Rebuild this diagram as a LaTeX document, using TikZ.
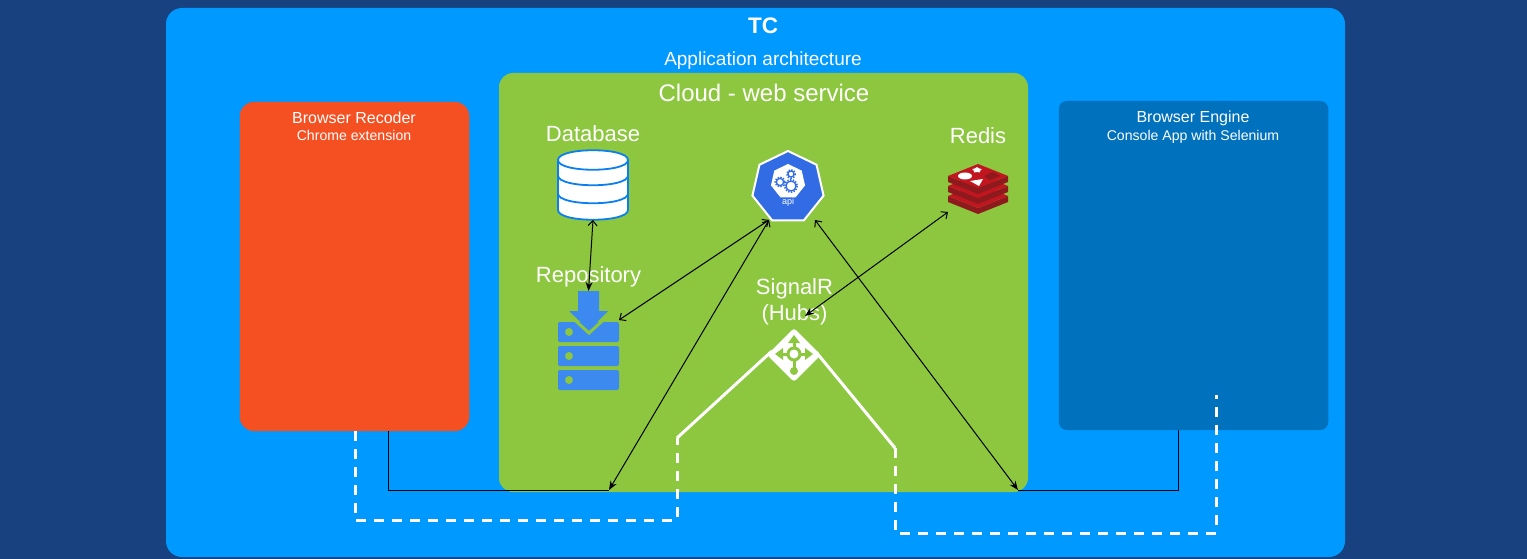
\documentclass[tikz,border=0pt]{standalone}
\usepackage{fontspec}
\setmainfont{Liberation Sans}
\usetikzlibrary{arrows.meta,calc,shapes.geometric}
\definecolor{PageClr}{HTML}{18427F}
\definecolor{OuterClr}{HTML}{0099FF}
\definecolor{CloudClr}{HTML}{8DC73F}
\definecolor{RecClr}{HTML}{F45022}
\definecolor{EngineClr}{HTML}{0071BC}
\definecolor{DbClr}{HTML}{0B7FEE}
\definecolor{RepoClr}{HTML}{3C8AF0}
\definecolor{ApiClr}{HTML}{326CE5}
\definecolor{RedisClr}{HTML}{C1161F}
\definecolor{RedisDark}{HTML}{8F1A1E}
\tikzset{
  boxshape/.style={rectangle,inner sep=0pt,outer sep=0pt},
  big/.style={text=white,inner sep=0pt,align=center,font=\fontsize{22}{26}\selectfont},
  small/.style={text=white,inner sep=0pt,align=center,font=\fontsize{14.1}{16}\selectfont},
  link/.style={black,line width=1pt},
  both/.style={link,{Stealth[length=9pt,width=7pt]}-{Straight Barb[length=5pt,width=9pt]}},
  open/.style={link,{Straight Barb[length=5pt,width=9pt]}-{Straight Barb[length=5pt,width=9pt]}},
  whiteline/.style={white,line width=3pt},
  whitedash/.style={white,line width=3pt,dash pattern=on 10pt off 8pt}
}
\begin{document}
\begin{tikzpicture}[x=1pt,y=-1pt]
\useasboundingbox (0,0) rectangle (1527,559);
\fill[PageClr] (0,0) rectangle (1527,559);

% containers
\fill[OuterClr,rounded corners=16pt] (166,8) rectangle (1345,557);
\fill[CloudClr,rounded corners=14pt] (499,73) rectangle (1028,492);
\node[boxshape,fill=RecClr,rounded corners=14pt,minimum width=229.5pt,minimum height=329pt] (rec) at (354.5,266.5) {};
\node[boxshape,fill=EngineClr,rounded corners=8pt,minimum width=269.5pt,minimum height=329pt] (engine) at (1193.5,265.5) {};

% texts
\node[big,font=\fontsize{22.5}{26}\selectfont\bfseries] (tc) at (763,26) {TC};
\node[big,font=\fontsize{19}{22}\selectfont] (arch) at (763,61) {Application architecture};
\node[big,font=\fontsize{24}{28}\selectfont] (cloud) at (764,93) {Cloud - web service};
\node[small,font=\fontsize{16}{19}\selectfont] (recname) at (354,118) {Browser Recoder};
\node[small] (rectype) at (354,135) {Chrome extension};
\node[small,font=\fontsize{16}{19}\selectfont] (enginename) at (1193,118.5) {Browser Engine};
\node[small] (enginetype) at (1193,137) {Console App with Selenium};
\node[big] (dbname) at (593,134) {Database};
\node[big] (reponame) at (588.5,277) {Repository};
\node[big] (redisname) at (978,136) {Redis};
\node[big,font=\fontsize{22}{26.5}\selectfont] (hubname) at (794.5,302) {SignalR\\(Hubs)};

% database
\node[boxshape,minimum width=71pt,minimum height=70pt] (db) at (593,185) {};
\filldraw[fill=white,draw=DbClr,line width=1.8pt] (558,160) -- (558,210) .. controls (558,223) and (628,223) .. (628,210)
  -- (628,160) .. controls (628,147) and (558,147) .. (558,160) -- cycle;
\foreach \bandY in {160,175.5,193.5}{
  \draw[DbClr,line width=1.8pt] (558,\bandY) .. controls (558,\bandY+13) and (628,\bandY+13) .. (628,\bandY);
}

% repository
\node[boxshape,minimum width=61pt,minimum height=100pt] (repo) at (588.5,341) {};
\foreach \barY in {332,356,380}{
  \fill[RepoClr,rounded corners=2pt] (558,\barY-10) rectangle (619,\barY+10);
  \fill[CloudClr] (569,\barY) circle (4);
}
\draw[CloudClr,line width=3pt] (567,313) -- (589,333) -- (611,313);
\fill[RepoClr] (578,291) -- (599,291) -- (599,311) -- (608,311) -- (589,330) -- (569,311) -- (578,311) -- cycle;

% api
\node[regular polygon,regular polygon sides=7,fill=ApiClr,draw=white,line width=2pt,minimum size=73pt,inner sep=0pt] (api) at (788,187.5) {};
\node[regular polygon,regular polygon sides=7,fill=white,minimum size=35pt,inner sep=0pt] (apicore) at (788,181.5) {};
\foreach \gearX/\gearY/\gearR in {780/182/3.6,791/174/3,791/186/5}{
  \draw[ApiClr,line width=1.3pt] (\gearX,\gearY) circle (\gearR);
  \draw[ApiClr,line width=1.6pt,dash pattern=on 1.4pt off 1.4pt] (\gearX,\gearY) circle (\gearR+1.2);
}
\node[text=white,inner sep=0pt,font=\fontsize{9}{10}\selectfont] (apiname) at (788,202.5) {api};

% redis
\node[boxshape,minimum width=60pt,minimum height=50pt] (redis) at (978,189) {};
\foreach \layerY in {20,10,0}{
  \fill[RedisDark] (948,176+\layerY) -- (978,188+\layerY) -- (1008,176+\layerY) -- (1008,182+\layerY) -- (978,194+\layerY) -- (948,182+\layerY) -- cycle;
  \fill[RedisClr] (948,176+\layerY) -- (978,164+\layerY) -- (1008,176+\layerY) -- (978,188+\layerY) -- cycle;
}
\fill[RedisDark] (984,176) -- (993,172) -- (1000,176) -- (990,180) -- cycle;
\fill[white] (965,176) ellipse (7 and 3.5);
\fill[white] (970,181) -- (983,179) -- (979,186) -- cycle;
\node[star,star points=5,fill=white,minimum size=10pt,inner sep=0pt,yscale=.6] (redisstar) at (977,170) {};

% hub
\coordinate (hubL) at (677,438);
\coordinate (hubR) at (895,448);
\draw[whiteline] (hubL) -- (772,351);
\draw[whiteline] (hubR) -- (816,352);
\node[diamond,fill=white,rounded corners=3pt,minimum size=54pt,inner sep=0pt] (hub) at (794,355) {};
\draw[CloudClr,line width=3pt] (794,340) -- (794,372);
\draw[CloudClr,line width=3pt] (779,354) -- (809,354);
\fill[CloudClr] (794,335) -- (800,343) -- (788,343) -- cycle;
\fill[CloudClr] (775,354) -- (783,348) -- (783,360) -- cycle;
\fill[CloudClr] (813,354) -- (805,348) -- (805,360) -- cycle;
\fill[CloudClr] (794,371) circle (4);
\filldraw[fill=white,draw=CloudClr,line width=3pt] (794,354) circle (6);

% white links
\coordinate (recD) at (355,431);
\coordinate (engineD) at (1216,395);
\draw[whitedash] (recD) -- (355,520) -- (677,520) -- (hubL);
\draw[whitedash] (hubR) -- (895,533) -- (1216,533) -- (engineD);

% black links
\coordinate (recA) at (388,431);
\coordinate (engineA) at (1178,430);
\coordinate (leftEnd) at (609,490);
\coordinate (rightEnd) at (1018,490);
\coordinate (apiL) at (769,220);
\coordinate (apiR) at (815,220);
\coordinate (repoR) at (619,320);
\coordinate (hubT) at (805,316);
\coordinate (redisL) at (948,212);
\draw[link] (recA) -- (388,490) -- (leftEnd);
\draw[link] (engineA) -- (1178,490) -- (rightEnd);
\draw[both] (leftEnd) -- (apiL);
\draw[both] (rightEnd) -- (apiR);
\draw[open] (repoR) -- (apiL);
\draw[both] (hubT) -- (redisL);
\draw[both] (repo.north) -- (db.south);
\end{tikzpicture}
\end{document}
